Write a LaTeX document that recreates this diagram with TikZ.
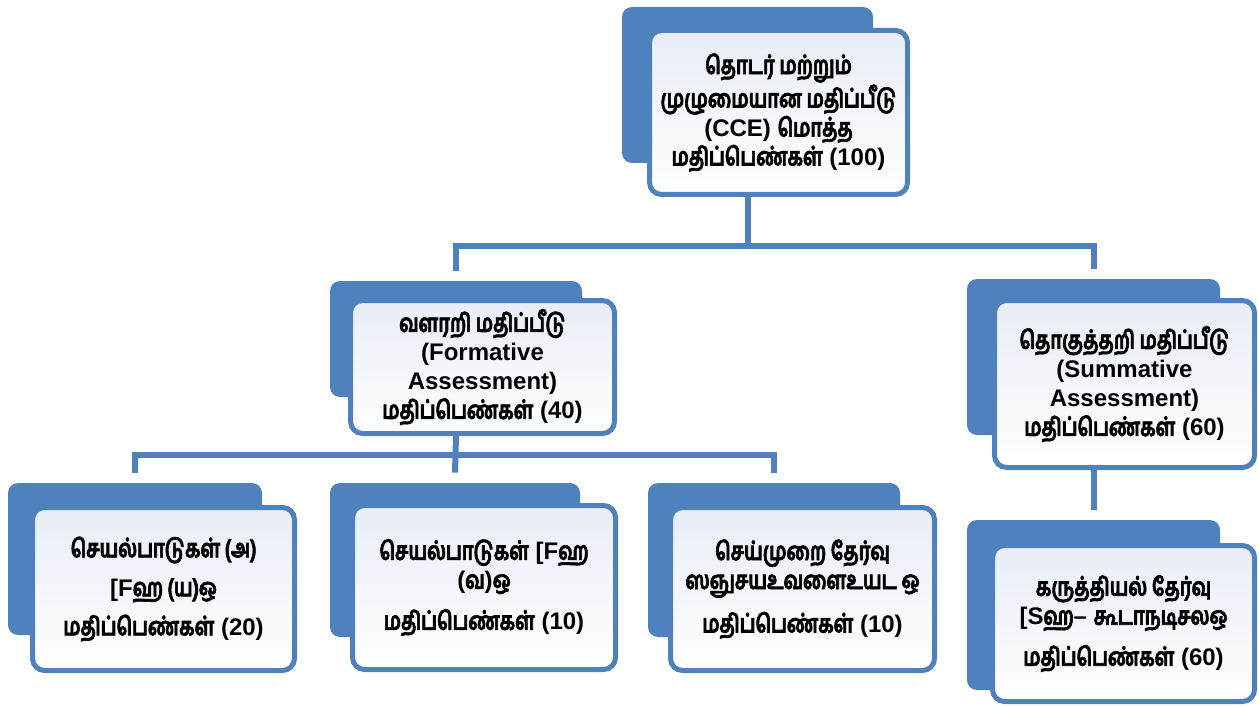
\documentclass[tikz,border=0pt]{standalone}
\usepackage{fontspec}
\setmainfont{Liberation Sans}[UprightFont={* Bold}]
\newfontfamily\tafont[Script=Tamil, Scale=1.05, FakeStretch=0.75, FakeBold=2.5]{Hind Madurai}
\newcommand{\ta}{\tafont\bfseries}
\usetikzlibrary{positioning}
\definecolor{cceblue}{RGB}{79,129,189}
\definecolor{ccefill}{RGB}{232,237,246}

\begin{document}
\begin{tikzpicture}[x=0.5pt,y=-0.5pt,
	every node/.style={font=\fontsize{12}{14.5}\selectfont},
	back/.style={fill=cceblue, rounded corners=5pt, inner sep=0pt},
	front/.style={draw=cceblue, line width=2.5pt, rounded corners=6pt, top color=ccefill, middle color=ccefill, bottom color=white, align=center, inner sep=0pt},
	link/.style={draw=cceblue, line width=3pt}]
	\useasboundingbox (0,0) rectangle (1259,706);
	% total marks
	\node[back, minimum width=125.5pt, minimum height=78pt] (cceB) at (747.5,85) {};
	\node[front, minimum width=129pt, minimum height=82pt] (cce) at (778.5,112.5) {{\ta தொடர் மற்றும்}\\{\ta முழுமையான மதிப்பீடு}\\(CCE) {\ta மொத்த}\\{\ta மதிப்பெண்கள்} (100)};
	% formative / summative
	\node[back, minimum width=126pt, minimum height=58pt] (faB) at (456,339) {};
	\node[front, minimum width=132pt, minimum height=66.5pt] (fa) at (482.5,367) {{\ta வளரறி மதிப்பீடு}\\(Formative\\Assessment)\\{\ta மதிப்பெண்கள்} (40)};
	\node[back, minimum width=126.5pt, minimum height=78pt] (saB) at (1093.5,357) {};
	\node[front, minimum width=130pt, minimum height=83.5pt] (sa) at (1124.5,384) {{\ta தொகுத்தறி மதிப்பீடு}\\(Summative\\Assessment)\\{\ta மதிப்பெண்கள்} (60)};
	% parts
	\node[back, minimum width=127pt, minimum height=76pt] (actaB) at (135,559) {};
	\node[front, minimum width=131pt, minimum height=81.5pt] (acta) at (163.5,589) {{\ta செயல்பாடுகள் (அ)}\\[5pt]{[}F{\ta ஹ (ய)ஒ}\\[5pt]{\ta மதிப்பெண்கள்} (20)};
	\node[back, minimum width=125pt, minimum height=77pt] (actbB) at (455,560) {};
	\node[front, minimum width=131.5pt, minimum height=82pt] (actb) at (484,587.5) {{\ta செயல்பாடுகள்} {[}F{\ta ஹ}\\({\ta வ}){\ta ஒ}\\[6pt]{\ta மதிப்பெண்கள்} (10)};
	\node[back, minimum width=126pt, minimum height=77pt] (pracB) at (774,560) {};
	\node[front, minimum width=132pt, minimum height=81.5pt] (prac) at (802.5,589) {{\ta செய்முறை தேர்வு}\\{\ta ஸஞுசயஉவளைஉயட ஒ}\\[6pt]{\ta மதிப்பெண்கள்} (10)};
	\node[back, minimum width=126.5pt, minimum height=85pt] (theoB) at (1093.5,605) {};
	\node[front, minimum width=131pt, minimum height=78pt] (theo) at (1123.5,623.5) {{\ta கருத்தியல் தேர்வு}\\{[}S{\ta ஹ}-- {\ta கூடாநடிசலஒ}\\[6pt]{\ta மதிப்பெண்கள்} (60)};
	% connectors
	\draw[link] (cceB.center |- cce.south) -- (cceB.center |- 0,246) -| ([yshift=5pt]faB.north);
	\draw[link] (cceB.center |- 0,246) -| ([yshift=5pt]saB.north);
	\draw[link] (faB.center |- fa.south) -- ([yshift=5pt]actbB.north);
	\draw[link] (faB.center |- 0,455) -| ([yshift=5pt]actaB.north);
	\draw[link] (faB.center |- 0,455) -| ([yshift=5pt]pracB.north);
	\draw[link] (saB.center |- sa.south) -- ([yshift=5pt]theoB.north);
\end{tikzpicture}
\end{document}
